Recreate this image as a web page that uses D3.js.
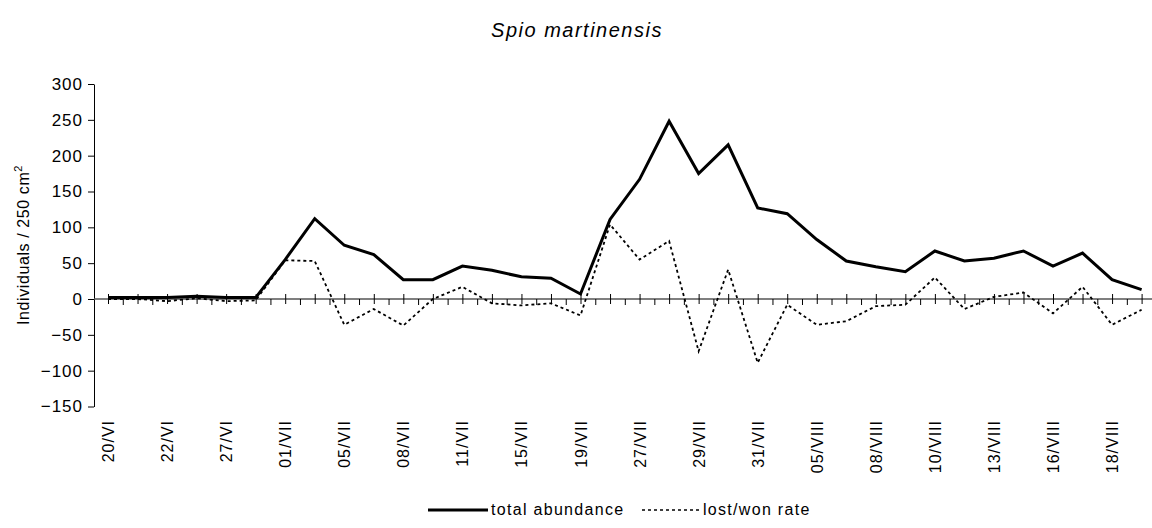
<!DOCTYPE html>
<html>
<head>
<meta charset="utf-8">
<script src="https://cdn.jsdelivr.net/npm/d3@7"></script>
<style>
  body { margin: 0; background: #fff; }
  svg text { font-family: "Liberation Sans", Arial, sans-serif; fill: #000; }
</style>
</head>
<body>
<svg id="chart" width="1152" height="528"></svg>
<script>
// one label every second sample
let tickLabels = ["20/VI", "22/VI", "27/VI", "01/VII", "05/VII", "08/VII", "11/VII", "15/VII", "19/VII",
    "27/VII", "29/VII", "31/VII", "05/VIII", "08/VIII", "10/VIII", "13/VIII", "16/VIII", "18/VIII"];

let totalAbundance = [2, 2, 2, 4, 2, 2, 55, 112, 75, 62, 27, 27, 46, 40, 31, 29, 7, 111,
    167, 248, 175, 215, 127, 119, 83, 53, 45, 38, 67, 53, 57, 67, 46, 64, 27, 13];

let lostWonRate = [0, 0, -3, 1, -3, -2, 54, 53, -36, -14, -37, 0, 17, -6, -9, -6, -23, 104,
    55, 81, -73, 41, -89, -8, -36, -31, -10, -8, 30, -14, 3, 9, -20, 17, -36, -15];

let yTicks = [-150, -100, -50, 0, 50, 100, 150, 200, 250, 300];

let svg = d3.select("#chart");

let x = d3.scalePoint()
    .domain(d3.range(totalAbundance.length))
    .range([108, 1141.6]);
let step = x.step();

let y = d3.scaleLinear().domain([-150, 300]).range([406.5, 84]);

// title
svg.append("text")
    .attr("x", 577)
    .attr("y", 37)
    .attr("text-anchor", "middle")
    .style("font-size", "20px")
    .style("font-style", "italic")
    .style("letter-spacing", "1.5px")
    .text("Spio martinensis");

// y axis
let yAxis = d3.axisLeft(y).tickValues(yTicks).tickSize(6).tickSizeOuter(0).tickPadding(5);
let gy = svg.append("g")
    .attr("transform", "translate(94,0)")
    .call(yAxis);
gy.select(".domain").attr("stroke", "#000");
gy.selectAll("text").style("font-size", "17px").style("letter-spacing", "1px")
    .attr("font-family", null);

// y title
svg.append("text")
    .attr("transform", "translate(29,245) rotate(-90)")
    .attr("text-anchor", "middle")
    .style("font-size", "16px")
    .style("letter-spacing", "0.6px")
    .html('Individuals / 250 cm<tspan dy="-7" style="font-size:11px">2</tspan>');

// zero line with ticks
let y0 = y(0);
svg.append("line")
    .attr("x1", 94).attr("x2", 1152)
    .attr("y1", y0).attr("y2", y0)
    .attr("stroke", "#555").attr("stroke-width", 1.5);

let majorAxis = d3.axisBottom(x).tickSize(4).tickFormat("");
let gMajor = svg.append("g").attr("transform", "translate(0," + y0 + ")").call(majorAxis);
gMajor.select(".domain").remove();
gMajor.selectAll("line").attr("y1", -5).attr("y2", 5).attr("stroke", "#000");

let boundaries = d3.range(totalAbundance.length).map(i => x(i) + step / 2);
let minorScale = d3.scaleIdentity().domain([94, 1152]);
let minorAxis = d3.axisBottom(minorScale).tickValues(boundaries).tickSize(6).tickFormat("");
let gMinor = svg.append("g").attr("transform", "translate(0," + y0 + ")").call(minorAxis);
gMinor.select(".domain").remove();
gMinor.selectAll("line").attr("stroke", "#000");

// category labels, rotated
let labelAxis = d3.axisBottom(x)
    .tickValues(d3.range(0, totalAbundance.length, 2))
    .tickFormat(i => tickLabels[i / 2])
    .tickSize(0);
let gLab = svg.append("g").attr("transform", "translate(0,420)").call(labelAxis);
gLab.select(".domain").remove();
gLab.selectAll("text")
    .attr("font-family", null)
    .style("font-size", "16px")
    .style("letter-spacing", "1px")
    .attr("text-anchor", "end")
    .attr("dy", null)
    .attr("y", 0)
    .attr("transform", "rotate(-90) translate(0,5.5)");

// series
let line = d3.line().x((d, i) => x(i)).y(d => y(d));

svg.append("path")
    .datum(lostWonRate)
    .attr("d", line)
    .attr("fill", "none")
    .attr("stroke", "#000")
    .attr("stroke-width", 1.8)
    .attr("stroke-dasharray", "3,3");

svg.append("path")
    .datum(totalAbundance)
    .attr("d", line)
    .attr("fill", "none")
    .attr("stroke", "#000")
    .attr("stroke-width", 3)
    .attr("stroke-linejoin", "miter");

// legend
let legend = svg.append("g").attr("transform", "translate(0,515)");
legend.append("line")
    .attr("x1", 428).attr("x2", 488).attr("y1", -5).attr("y2", -5)
    .attr("stroke", "#000").attr("stroke-width", 3);
legend.append("text")
    .attr("x", 491).attr("y", 0)
    .style("font-size", "16px").style("letter-spacing", "1.3px")
    .text("total abundance");
legend.append("line")
    .attr("x1", 642).attr("x2", 700).attr("y1", -5).attr("y2", -5)
    .attr("stroke", "#000").attr("stroke-width", 1.5)
    .attr("stroke-dasharray", "3,3");
legend.append("text")
    .attr("x", 703).attr("y", 0)
    .style("font-size", "16px").style("letter-spacing", "1.3px")
    .text("lost/won rate");
</script>
</body>
</html>
